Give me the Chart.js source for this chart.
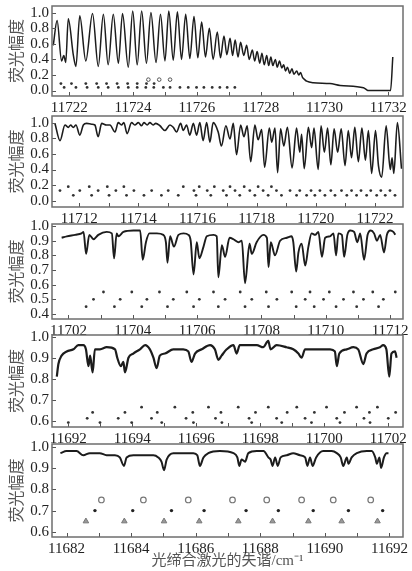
<!DOCTYPE html>
<html>
<head>
<meta charset="utf-8">
<script src="https://cdn.jsdelivr.net/npm/chart.js@4.4.1/dist/chart.umd.min.js"></script>
<style>
  html, body { margin: 0; padding: 0; background: #fff; }
  #wrap { position: relative; width: 412px; height: 571px; overflow: hidden; }
  .panel { position: absolute; left: 0; width: 412px; }
</style>
</head>
<body>
<div id="wrap">
  <div class="panel" id="w1"><canvas id="c1"></canvas></div>
  <div class="panel" id="w2"><canvas id="c2"></canvas></div>
  <div class="panel" id="w3"><canvas id="c3"></canvas></div>
  <div class="panel" id="w4"><canvas id="c4"></canvas></div>
  <div class="panel" id="w5"><canvas id="c5"></canvas></div>
</div>
<script>
'use strict';

// ---- data: [detuning, amplitude] ----
var p1Line = [
	[11721.50, 0.58], [11721.62, 0.90], [11721.76, 0.38], [11721.83, 0.45], [11721.89, 0.36], [11721.97, 0.92],
	[11722.13, 0.45], [11722.21, 0.31], [11722.33, 0.96], [11722.52, 0.38], [11722.73, 0.99], [11722.91, 0.31],
	[11723.07, 0.98], [11723.22, 0.33], [11723.38, 0.98], [11723.54, 0.35], [11723.67, 0.99], [11723.85, 0.30],
	[11723.99, 1.02], [11724.13, 0.33], [11724.27, 1.02], [11724.42, 0.35], [11724.56, 1.00], [11724.72, 0.36],
	[11724.86, 0.98], [11725.00, 0.38], [11725.12, 1.02], [11725.26, 0.39], [11725.39, 1.01], [11725.52, 0.40],
	[11725.65, 0.98], [11725.78, 0.41], [11725.91, 0.95], [11726.03, 0.42], [11726.15, 0.88], [11726.27, 0.43],
	[11726.39, 0.80], [11726.51, 0.40], [11726.64, 0.75], [11726.74, 0.42], [11726.85, 0.70], [11726.94, 0.46],
	[11727.04, 0.67], [11727.12, 0.45], [11727.20, 0.65], [11727.29, 0.43], [11727.37, 0.62], [11727.47, 0.45],
	[11727.56, 0.58], [11727.64, 0.40], [11727.74, 0.52], [11727.81, 0.38], [11727.89, 0.50], [11727.97, 0.35],
	[11728.04, 0.48], [11728.11, 0.33], [11728.19, 0.45], [11728.25, 0.32], [11728.32, 0.43], [11728.38, 0.32],
	[11728.46, 0.40], [11728.52, 0.30], [11728.59, 0.38], [11728.66, 0.29], [11728.72, 0.33], [11728.78, 0.25],
	[11728.84, 0.30], [11728.91, 0.22], [11728.98, 0.28], [11729.04, 0.21], [11729.13, 0.25], [11729.19, 0.20],
	[11729.25, 0.23], [11729.31, 0.17], [11729.38, 0.14], [11729.44, 0.12], [11729.65, 0.10], [11730.17, 0.09],
	[11730.49, 0.065], [11731.22, 0.035], [11731.32, 0.01], [11731.37, 0.0], [11732.07, 0.0], [11732.14, 0.43]
];
var p1RowY = [0.14, 0.09, 0.04];
var p1Rows = [
	[11724.48, 11724.82, 11725.16],
	[11721.74, 11722.07, 11722.52, 11722.86, 11723.17, 11723.50, 11723.83, 11724.13, 11724.42, 11724.66],
	[11721.84, 11722.21, 11722.56, 11722.91, 11723.22, 11723.54, 11723.85, 11724.13, 11724.40, 11724.65,
	 11724.95, 11725.16, 11725.47, 11725.73, 11725.99, 11726.22, 11726.48, 11726.72, 11726.95, 11727.19]
];

var p2Line = [
	[11711.18, 0.99], [11711.35, 0.77], [11711.52, 0.97], [11711.63, 0.94], [11711.71, 0.97], [11711.80, 0.94],
	[11711.89, 0.97], [11712.02, 0.84], [11712.14, 0.97], [11712.25, 0.99], [11712.42, 0.98], [11712.53, 0.97],
	[11712.64, 0.82], [11712.76, 0.99], [11712.92, 0.97], [11713.04, 0.97], [11713.21, 0.88], [11713.32, 1.00],
	[11713.43, 0.97], [11713.51, 1.00], [11713.62, 0.86], [11713.77, 1.00], [11713.88, 0.97], [11714.00, 1.00],
	[11714.11, 0.96], [11714.19, 1.00], [11714.30, 0.97], [11714.39, 1.00], [11714.50, 0.97], [11714.59, 0.99],
	[11714.73, 0.96], [11714.90, 0.90], [11715.07, 0.97], [11715.18, 0.94], [11715.29, 0.88], [11715.43, 0.99],
	[11715.52, 0.90], [11715.63, 0.97], [11715.74, 0.84], [11715.86, 0.99], [11715.97, 0.84], [11716.08, 1.00],
	[11716.19, 0.77], [11716.31, 1.00], [11716.42, 0.75], [11716.53, 1.00], [11716.70, 0.88], [11716.81, 0.70],
	[11716.96, 0.96], [11717.10, 0.79], [11717.21, 0.99], [11717.32, 0.59], [11717.46, 0.97], [11717.57, 0.82],
	[11717.68, 0.96], [11717.80, 0.50], [11717.94, 0.97], [11718.05, 0.78], [11718.17, 0.91], [11718.27, 0.43],
	[11718.43, 0.93], [11718.51, 0.75], [11718.62, 0.93], [11718.71, 0.36], [11718.81, 0.92], [11718.92, 0.70],
	[11719.04, 0.94], [11719.20, 0.42], [11719.35, 0.93], [11719.46, 0.62], [11719.52, 0.85], [11719.61, 0.41],
	[11719.75, 0.94], [11719.86, 0.68], [11719.94, 0.93], [11720.08, 0.40], [11720.18, 0.96], [11720.29, 0.62],
	[11720.40, 0.93], [11720.51, 0.46], [11720.62, 0.92], [11720.74, 0.62], [11720.86, 0.92], [11720.99, 0.45],
	[11721.10, 0.90], [11721.21, 0.55], [11721.32, 0.94], [11721.44, 0.50], [11721.56, 0.93], [11721.68, 0.52],
	[11721.78, 0.90], [11721.89, 0.35], [11722.02, 0.90], [11722.12, 0.45], [11722.23, 0.30], [11722.38, 0.96],
	[11722.52, 0.40], [11722.58, 0.55], [11722.64, 0.35], [11722.76, 1.00], [11722.90, 0.41]
];
var p2RowY = [0.18, 0.13, 0.07];
var p2Rows = [
	[11711.63, 11712.34, 11712.95, 11713.51, 11715.52, 11716.06, 11716.57, 11717.10, 11717.58, 11718.05, 11718.50],
	[11711.35, 11712.02, 11712.64, 11713.24, 11713.85, 11714.45, 11715.01, 11715.88, 11716.33, 11716.87, 11717.27,
	 11717.77, 11718.22, 11718.67, 11719.13, 11719.46, 11719.84, 11720.14, 11720.51, 11720.87, 11721.21, 11721.53,
	 11721.86, 11722.20, 11722.51],
	[11711.80, 11712.42, 11713.01, 11713.60, 11714.19, 11714.78, 11715.35, 11715.95, 11716.45, 11716.98, 11717.43,
	 11717.94, 11718.39, 11718.84, 11719.35, 11719.69, 11719.97, 11720.31, 11720.65, 11721.05, 11721.38, 11721.72,
	 11722.06, 11722.35, 11722.68]
];

var p3Line = [
	[11701.79, 0.92], [11701.95, 0.93], [11702.21, 0.94], [11702.41, 0.95], [11702.47, 0.96], [11702.55, 0.81],
	[11702.65, 0.94], [11702.78, 0.91], [11702.93, 0.94], [11703.19, 0.96], [11703.35, 0.95], [11703.42, 0.78],
	[11703.50, 0.95], [11703.55, 0.93], [11703.71, 0.96], [11704.02, 0.97], [11704.23, 0.97], [11704.31, 0.77],
	[11704.41, 0.89], [11704.52, 0.95], [11704.75, 0.95], [11704.95, 0.94], [11705.03, 0.89], [11705.08, 0.75],
	[11705.16, 0.93], [11705.28, 0.86], [11705.42, 0.94], [11705.58, 0.95], [11705.73, 0.94], [11705.80, 0.90],
	[11705.89, 0.67], [11705.99, 0.89], [11706.07, 0.78], [11706.20, 0.86], [11706.30, 0.93], [11706.51, 0.94],
	[11706.61, 0.93], [11706.66, 0.65], [11706.77, 0.87], [11706.87, 0.79], [11707.01, 0.92], [11707.13, 0.91],
	[11707.28, 0.89], [11707.39, 0.90], [11707.49, 0.61], [11707.63, 0.88], [11707.70, 0.81], [11707.85, 0.89],
	[11708.06, 0.94], [11708.17, 0.92], [11708.22, 0.72], [11708.29, 0.89], [11708.42, 0.80], [11708.58, 0.90],
	[11708.79, 0.92], [11708.94, 0.93], [11708.99, 0.89], [11709.08, 0.69], [11709.15, 0.82], [11709.25, 0.88],
	[11709.36, 0.73], [11709.46, 0.86], [11709.56, 0.95], [11709.67, 0.94], [11709.77, 0.96], [11709.88, 0.79],
	[11709.98, 0.92], [11710.13, 0.93], [11710.24, 0.95], [11710.32, 0.80], [11710.39, 0.95], [11710.50, 0.94],
	[11710.57, 0.79], [11710.67, 0.94], [11710.76, 0.97], [11710.88, 0.96], [11710.98, 0.89], [11711.07, 0.95],
	[11711.19, 0.77], [11711.30, 0.94], [11711.40, 0.97], [11711.50, 0.95], [11711.59, 0.90], [11711.69, 0.94],
	[11711.81, 0.82], [11711.90, 0.94], [11712.00, 0.97], [11712.10, 0.96], [11712.16, 0.94]
];
var p3RowY = [0.55, 0.50, 0.45];
var p3Rows = [
	[11703.09, 11703.97, 11704.83, 11705.68, 11706.51, 11707.34, 11708.15, 11708.94, 11709.51, 11710.11, 11710.86, 11711.46, 11712.16],
	[11702.78, 11703.61, 11704.44, 11705.26, 11706.07, 11706.87, 11707.70, 11708.48, 11709.36, 11709.93, 11710.55, 11711.17, 11711.79],
	[11702.55, 11703.43, 11704.28, 11705.08, 11705.89, 11706.66, 11707.49, 11708.22, 11709.08, 11709.64, 11710.32, 11710.96, 11711.64]
];

var p4Line = [
	[11691.64, 0.81], [11691.69, 0.87], [11691.79, 0.91], [11691.95, 0.93], [11692.16, 0.94], [11692.31, 0.96],
	[11692.47, 0.96], [11692.55, 0.94], [11692.63, 0.86], [11692.68, 0.91], [11692.76, 0.83], [11692.83, 0.94],
	[11692.99, 0.94], [11693.20, 0.95], [11693.46, 0.94], [11693.53, 0.90], [11693.64, 0.86], [11693.72, 0.88],
	[11693.77, 0.83], [11693.88, 0.90], [11694.03, 0.92], [11694.24, 0.94], [11694.40, 0.96], [11694.55, 0.94],
	[11694.66, 0.90], [11694.76, 0.85], [11694.86, 0.91], [11695.02, 0.92], [11695.28, 0.94], [11695.59, 0.94],
	[11695.75, 0.93], [11695.85, 0.88], [11695.96, 0.92], [11696.17, 0.94], [11696.43, 0.96], [11696.58, 0.94],
	[11696.69, 0.89], [11696.79, 0.91], [11696.95, 0.94], [11697.16, 0.96], [11697.26, 0.92], [11697.36, 0.96],
	[11697.63, 0.96], [11697.89, 0.96], [11698.09, 0.95], [11698.25, 0.98], [11698.32, 0.94], [11698.51, 0.96],
	[11698.82, 0.95], [11699.03, 0.94], [11699.19, 0.92], [11699.29, 0.90], [11699.40, 0.94], [11699.66, 0.94],
	[11699.97, 0.94], [11700.18, 0.94], [11700.33, 0.93], [11700.39, 0.86], [11700.47, 0.92], [11700.70, 0.94],
	[11700.91, 0.95], [11701.06, 0.94], [11701.22, 0.87], [11701.32, 0.92], [11701.53, 0.94], [11701.74, 0.95],
	[11701.84, 0.96], [11701.94, 0.94], [11702.03, 0.81], [11702.10, 0.92], [11702.21, 0.93], [11702.26, 0.90]
];
var p4RowY = [0.665, 0.64, 0.612, 0.592];
var p4Rows = [
	[11694.29, 11695.33, 11696.38, 11697.31, 11698.25, 11699.14, 11700.07, 11701.01, 11701.66],
	[11692.76, 11693.77, 11694.78, 11695.89, 11696.77, 11697.85, 11698.84, 11699.69, 11700.63, 11701.41, 11702.23],
	[11692.59, 11693.56, 11694.60, 11695.68, 11696.60, 11697.65, 11698.51, 11699.40, 11700.39, 11701.24, 11702.00],
	[11692.00, 11692.99, 11693.98, 11694.92, 11695.91, 11696.80, 11697.73, 11698.67, 11699.60, 11700.49, 11701.43]
];

var p5Line = [
	[11681.81, 0.97], [11682.00, 0.98], [11682.31, 0.98], [11682.52, 0.96], [11682.72, 0.97], [11683.03, 0.97],
	[11683.24, 0.96], [11683.50, 0.96], [11683.65, 0.95], [11683.78, 0.91], [11683.86, 0.95], [11684.07, 0.96],
	[11684.38, 0.96], [11684.69, 0.96], [11684.84, 0.95], [11684.94, 0.93], [11685.02, 0.89], [11685.10, 0.94],
	[11685.31, 0.97], [11685.62, 0.97], [11685.93, 0.97], [11686.05, 0.96], [11686.13, 0.91], [11686.24, 0.95],
	[11686.39, 0.97], [11686.75, 0.98], [11687.17, 0.97], [11687.29, 0.95], [11687.35, 0.91], [11687.42, 0.94],
	[11687.53, 0.93], [11687.63, 0.97], [11687.89, 0.98], [11688.10, 0.98], [11688.25, 0.95], [11688.32, 0.94],
	[11688.38, 0.91], [11688.46, 0.95], [11688.54, 0.91], [11688.63, 0.95], [11688.82, 0.96], [11689.02, 0.97],
	[11689.23, 0.96], [11689.39, 0.95], [11689.46, 0.91], [11689.54, 0.95], [11689.62, 0.91], [11689.73, 0.95],
	[11689.95, 0.98], [11690.21, 0.98], [11690.37, 0.97], [11690.49, 0.95], [11690.57, 0.91], [11690.68, 0.95],
	[11690.73, 0.92], [11690.83, 0.95], [11690.99, 0.97], [11691.30, 0.98], [11691.45, 0.98], [11691.56, 0.95],
	[11691.61, 0.92], [11691.69, 0.95], [11691.74, 0.90], [11691.83, 0.95], [11691.91, 0.97], [11691.97, 0.97]
];
var p5CircleY = 0.75;
var p5Circles = [11683.08, 11684.38, 11685.77, 11687.14, 11688.20, 11689.28, 11690.26, 11691.42];
var p5StarY = 0.70;
var p5Stars = [11682.88, 11684.05, 11685.25, 11686.26, 11687.56, 11688.56, 11689.64, 11690.73, 11691.79];
var p5TriangleY = 0.65;
var p5Triangles = [11682.60, 11683.79, 11685.02, 11686.11, 11687.32, 11688.38, 11689.49, 11690.52, 11691.63];

// tick labels
var p1XLabels = [11722, 11724, 11726, 11728, 11730, 11732];
var p2XLabels = [11712, 11714, 11716, 11718, 11720, 11722];
var p3XLabels = [11702, 11704, 11706, 11708, 11710, 11712];
var p4XLabels = [11692, 11694, 11696, 11698, 11700, 11702];
var p5XLabels = [11682, 11684, 11686, 11688, 11690, 11692];
var yTicksWide = [0.0, 0.2, 0.4, 0.6, 0.8, 1.0];
var yTicks3 = [0.4, 0.5, 0.6, 0.7, 0.8, 0.9, 1.0];
var yTicksNarrow = [0.6, 0.7, 0.8, 0.9, 1.0];

var yTitle = '荧光幅度';
var xTitle = '光缔合激光的失谐/cm⁻¹';

// ---- drawing ----
var serif = "'Liberation Serif', 'Times New Roman', serif";
var cjk = "'Liberation Serif', 'Noto Sans CJK SC', sans-serif";

var framePlugin = {
	id: 'frame',
	afterDraw: function (chart) {
		var ctx = chart.ctx;
		var a = chart.chartArea;
		var xs = chart.scales.x;
		var ys = chart.scales.y;
		ctx.save();
		ctx.strokeStyle = '#555';
		ctx.lineWidth = 1;
		ctx.beginPath();
		xs.ticks.forEach(function (t) {
			var px = Math.round(xs.getPixelForValue(t.value)) + 0.5;
			ctx.moveTo(px, a.bottom);
			ctx.lineTo(px, a.bottom - 4);
		});
		ys.ticks.forEach(function (t) {
			var py = Math.round(ys.getPixelForValue(t.value)) + 0.5;
			ctx.moveTo(a.left, py);
			ctx.lineTo(a.left + 4, py);
		});
		ctx.stroke();
		ctx.strokeStyle = '#6e6e6e';
		ctx.lineWidth = 1.5;
		ctx.strokeRect(a.left, a.top, a.right - a.left, a.bottom - a.top);
		ctx.restore();
	}
};

function toPoints(line) {
	return line.map(function (p) { return { x: p[0], y: p[1] }; });
}

function rowPoints(xs, y) {
	return xs.map(function (x) { return { x: x, y: y }; });
}

function dotRow(xs, y) {
	return {
		data: rowPoints(xs, y),
		showLine: false,
		pointRadius: 1.4,
		pointStyle: 'circle',
		pointBackgroundColor: '#333',
		pointBorderWidth: 0
	};
}

function makePanel(p) {
	var wrap = document.getElementById(p.wrap);
	wrap.style.top = p.top + 'px';
	wrap.style.height = p.height + 'px';

	var datasets = [{
		data: toPoints(p.line),
		showLine: true,
		borderColor: '#1c1c1c',
		borderWidth: p.lineWidth,
		pointRadius: 0,
		cubicInterpolationMode: 'monotone',
		fill: false
	}].concat(p.marks);

	return new Chart(document.getElementById(p.canvas), {
		type: 'scatter',
		data: { datasets: datasets },
		options: {
			responsive: true,
			maintainAspectRatio: false,
			animation: false,
			events: [],
			layout: { padding: { top: 6, right: 9, left: 0, bottom: 0 } },
			plugins: { legend: { display: false }, tooltip: { enabled: false } },
			scales: {
				x: {
					type: 'linear',
					min: p.xMin,
					max: p.xMax,
					grid: { display: false, drawTicks: false },
					border: { display: false },
					afterBuildTicks: function (s) {
						var t = [];
						for (var v = Math.ceil(p.xMin); v <= p.xMax; v++) {
							t.push({ value: v });
						}
						s.ticks = t;
					},
					afterFit: function (s) {
						s.height = p.xAxisH;
						s.paddingLeft = 0;
						s.paddingRight = 0;
					},
					ticks: {
						autoSkip: false,
						maxRotation: 0,
						padding: 3,
						color: '#222',
						font: { family: serif, size: 15 },
						callback: function (v) {
							return p.xLabels.indexOf(v) >= 0 ? String(v) : '';
						}
					},
					title: {
						display: !!p.xTitle,
						text: p.xTitle || '',
						color: '#555',
						font: { family: cjk, size: 15 },
						padding: { top: 0, bottom: 1 }
					}
				},
				y: {
					min: p.yMin,
					max: p.yMax,
					grid: { display: false, drawTicks: false },
					border: { display: false },
					afterBuildTicks: function (s) {
						s.ticks = p.yTicks.map(function (v) { return { value: v }; });
					},
					afterFit: function (s) {
						s.width = 52;
						s.paddingTop = 0;
						s.paddingBottom = 0;
					},
					ticks: {
						autoSkip: false,
						padding: 3,
						color: '#222',
						font: { family: serif, size: 15 },
						callback: function (v) { return Number(v).toFixed(1); }
					},
					title: {
						display: true,
						text: yTitle,
						color: '#555',
						font: { family: "'Noto Sans CJK SC', sans-serif", size: 16 },
						padding: { top: 6, bottom: 0 }
					}
				}
			}
		},
		plugins: [framePlugin]
	});
}

var panels = [
	{
		wrap: 'w1', canvas: 'c1', top: 0, height: 118, xAxisH: 22, lineWidth: 1.5,
		line: p1Line, xMin: 11721.46, xMax: 11732.46, yMin: -0.07, yMax: 1.085,
		xLabels: p1XLabels, yTicks: yTicksWide,
		marks: [
			{ data: rowPoints(p1Rows[0], p1RowY[0]), showLine: false, pointRadius: 1.8, pointStyle: 'circle',
			  pointBackgroundColor: '#fff', pointBorderColor: '#555', pointBorderWidth: 1 },
			dotRow(p1Rows[1], p1RowY[1]),
			dotRow(p1Rows[2], p1RowY[2])
		]
	},
	{
		wrap: 'w2', canvas: 'c2', top: 110, height: 119, xAxisH: 22, lineWidth: 1.6,
		line: p2Line, xMin: 11711.08, xMax: 11722.95, yMin: -0.08, yMax: 1.085,
		xLabels: p2XLabels, yTicks: yTicksWide,
		marks: [dotRow(p2Rows[0], p2RowY[0]), dotRow(p2Rows[1], p2RowY[1]), dotRow(p2Rows[2], p2RowY[2])]
	},
	{
		wrap: 'w3', canvas: 'c3', top: 218, height: 123, xAxisH: 22, lineWidth: 1.9,
		line: p3Line, xMin: 11701.49, xMax: 11712.40, yMin: 0.366, yMax: 1.014,
		xLabels: p3XLabels, yTicks: yTicks3,
		marks: [dotRow(p3Rows[0], p3RowY[0]), dotRow(p3Rows[1], p3RowY[1]), dotRow(p3Rows[2], p3RowY[2])]
	},
	{
		wrap: 'w4', canvas: 'c4', top: 329, height: 120, xAxisH: 22, lineWidth: 2.2,
		line: p4Line, xMin: 11691.49, xMax: 11702.46, yMin: 0.571, yMax: 1.008,
		xLabels: p4XLabels, yTicks: yTicksNarrow,
		marks: [dotRow(p4Rows[0], p4RowY[0]), dotRow(p4Rows[1], p4RowY[1]),
		        dotRow(p4Rows[2], p4RowY[2]), dotRow(p4Rows[3], p4RowY[3])]
	},
	{
		wrap: 'w5', canvas: 'c5', top: 438, height: 133, xAxisH: 34, lineWidth: 2.0,
		line: p5Line, xMin: 11681.55, xMax: 11692.42, yMin: 0.576, yMax: 1.013,
		xLabels: p5XLabels, yTicks: yTicksNarrow, xTitle: xTitle,
		marks: [
			{ data: rowPoints(p5Circles, p5CircleY), showLine: false, pointRadius: 2.8, pointStyle: 'circle',
			  pointBackgroundColor: '#fff', pointBorderColor: '#777', pointBorderWidth: 1.2 },
			{ data: rowPoints(p5Stars, p5StarY), showLine: false, pointRadius: 1.7, pointStyle: 'circle',
			  pointBackgroundColor: '#222', pointBorderWidth: 0 },
			{ data: rowPoints(p5Triangles, p5TriangleY), showLine: false, pointRadius: 3.2, pointStyle: 'triangle',
			  pointBackgroundColor: '#999', pointBorderColor: '#777', pointBorderWidth: 1 }
		]
	}
];

panels.forEach(makePanel);
</script>
</body>
</html>
